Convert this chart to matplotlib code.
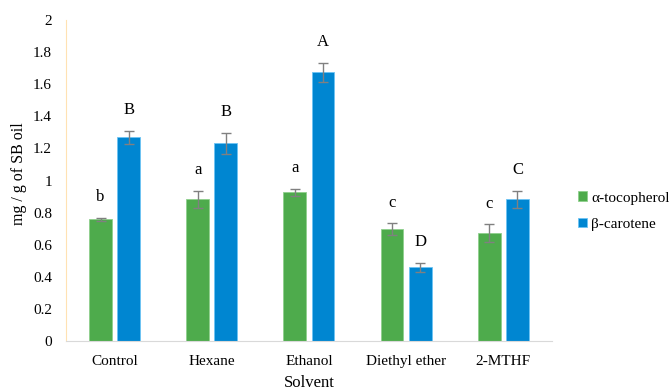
import numpy as np
import matplotlib
matplotlib.use("Agg")
from matplotlib import pyplot

# solvent extraction results (mg per g of oil)
solvents = ["Control", "Hexane", "Ethanol", "Diethyl ether", "2-MTHF"]
toco = [0.758, 0.883, 0.926, 0.696, 0.671]
toco_err = [0.010, 0.054, 0.023, 0.037, 0.055]
caro = [1.269, 1.232, 1.674, 0.459, 0.883]
caro_err = [0.040, 0.064, 0.060, 0.027, 0.054]
toco_letters = ["b", "a", "a", "c", "c"]
caro_letters = ["B", "B", "A", "D", "C"]

pyplot.rcParams["font.family"] = ["Liberation Serif", "DejaVu Serif"]

fig = pyplot.figure(figsize=(6.69, 3.9), dpi=100)
ax = fig.add_axes([0.0987, 0.1256, 0.7263, 0.8231])

x = np.arange(len(solvents))
width = 0.235
off = 0.145

green = "#4eab4c"
blue = "#0086d1"
errkw = dict(ecolor="#808080", elinewidth=1.0, capsize=3.3, capthick=1.0)

ax.bar(x - off, toco, width, yerr=toco_err, color=green, edgecolor="#8fd08d",
       linewidth=0.6, error_kw=errkw, label="\u03b1-tocopherol")
ax.bar(x + off, caro, width, yerr=caro_err, color=blue, edgecolor="#6cc4f5",
       linewidth=0.6, error_kw=errkw, label="\u03b2-carotene")

# significance letters above the error bars
for i in range(len(solvents)):
    ax.annotate(toco_letters[i], (x[i] - off, toco[i] + toco_err[i]),
                xytext=(0, 15), textcoords="offset points",
                ha="center", va="center", fontsize=12)
    ax.annotate(caro_letters[i], (x[i] + off, caro[i] + caro_err[i]),
                xytext=(0, 15), textcoords="offset points",
                ha="center", va="center", fontsize=12)

ax.set_xlim(-0.5, len(solvents) - 0.5)
ax.set_ylim(0, 2)
ax.set_yticks(np.arange(0, 2.01, 0.2))
ax.set_yticklabels(["0", "0.2", "0.4", "0.6", "0.8", "1", "1.2", "1.4", "1.6", "1.8", "2"])
ax.set_xticks(x)
ax.set_xticklabels(solvents)
ax.tick_params(axis="both", length=0, labelsize=11)
ax.tick_params(axis="x", pad=10)
ax.tick_params(axis="y", pad=10)

ax.spines["top"].set_visible(False)
ax.spines["right"].set_visible(False)
ax.spines["left"].set_color("#ffe2b3")
ax.spines["bottom"].set_color("#d9d9d9")

ax.set_xlabel("Solvent", fontsize=12, labelpad=5)
ax.set_ylabel("mg / g of SB oil", fontsize=11.5)
ax.yaxis.set_label_coords(-0.08, 0.52)

ax.legend(loc="center left", bbox_to_anchor=(1.031, 0.405), frameon=False,
          fontsize=11, handlelength=0.6, handleheight=0.6, handletextpad=0.3,
          labelspacing=0.85, borderaxespad=0.3)

fig.savefig("out.png", dpi=100)
